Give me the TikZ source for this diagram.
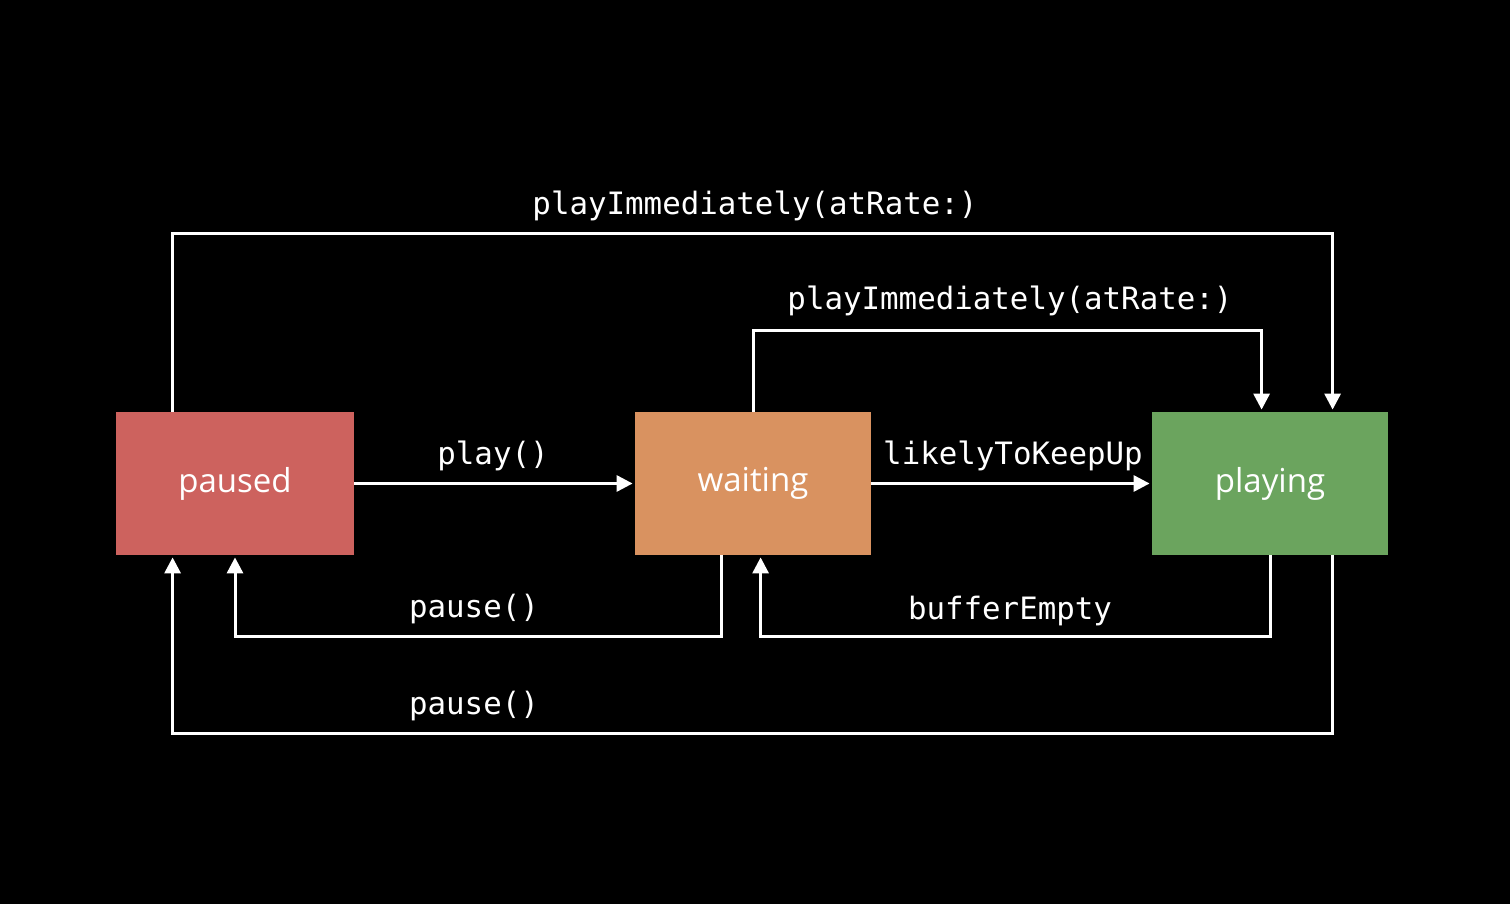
\documentclass[tikz,border=0pt]{standalone}
\usepackage{fontspec}
\setmainfont{Open Sans}
\newfontfamily\codefont{DejaVu Sans Mono}
\usetikzlibrary{calc,arrows.meta}
\definecolor{cpaused}{HTML}{CD625E}
\definecolor{cwaiting}{HTML}{D99260}
\definecolor{cplaying}{HTML}{6BA45E}
\begin{document}
\begin{tikzpicture}[x=0.5pt,y=-0.5pt,
  state/.style={minimum width=118pt,minimum height=71.5pt,inner sep=0pt,
    text=white,font=\fontsize{16.5}{18}\selectfont},
  conn/.style={draw=white,line width=1.5pt},
  arr/.style={conn,-{Triangle[width=8pt,length=8pt]},shorten >=1pt},
  lbl/.style={text=white,font=\codefont\fontsize{15.4}{17}\selectfont,inner sep=0pt}]
\fill[black] (0,0) rectangle (1510,904);
\useasboundingbox (0,0) rectangle (1510,904);
\node[state,fill=cpaused,minimum width=119pt] (paused) at (235,483.5) {paused};
\node[state,fill=cwaiting] (waiting) at (753,483.5) {waiting};
\node[state,fill=cplaying] (playing) at (1270,483.5) {playing};
% horizontal
\draw[arr] (paused.east) -- (waiting.west);
\draw[arr] (waiting.east) -- (playing.west);
% top outer
\draw[arr] ($(paused.north west)+(57,0)$) -- ++(0,-178) -| ($(playing.north west)+(181,0)$);
% top inner
\draw[arr] (waiting.north) -- ++(0,-81) -| ($(playing.north west)+(110,0)$);
% bottom inner left
\draw[arr] ($(waiting.south west)+(87,0)$) -- ++(0,81) -| (paused.south);
% bottom inner right
\draw[arr] (playing.south) -- ++(0,81) -| ($(waiting.south west)+(126,0)$);
% bottom outer
\draw[arr] ($(playing.south west)+(181,0)$) -- ++(0,178) -| ($(paused.south west)+(57,0)$);
% labels
\node[lbl] (l1) at (755,206) {playImmediately(atRate:)};
\node[lbl] (l2) at (1010,301) {playImmediately(atRate:)};
\node[lbl] (l3) at (493,456) {play()};
\node[lbl] (l4) at (1013,456) {likelyToKeepUp};
\node[lbl] (l5) at (474,609) {pause()};
\node[lbl] (l6) at (1010,611) {bufferEmpty};
\node[lbl] (l7) at (474,706) {pause()};
\end{tikzpicture}
\end{document}
